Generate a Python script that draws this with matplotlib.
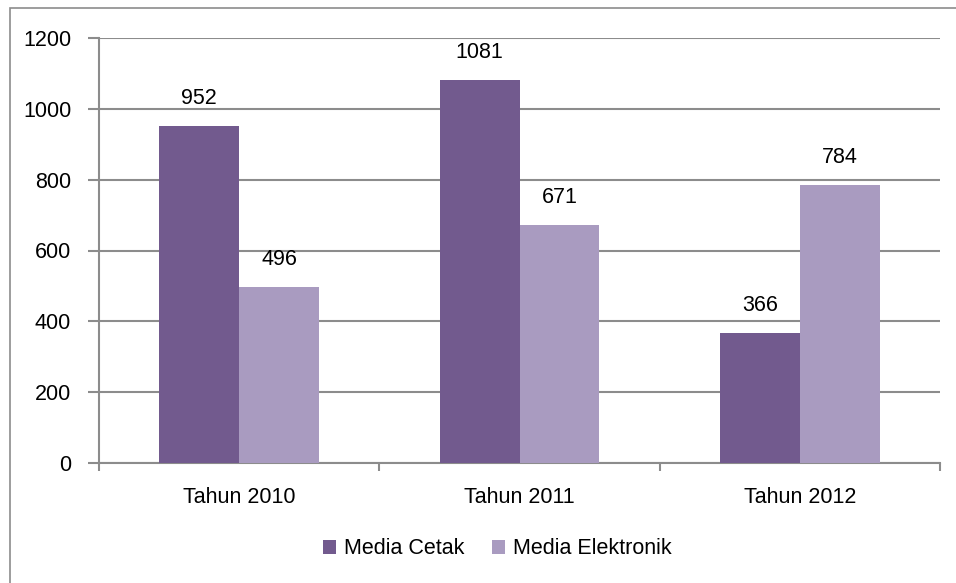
import numpy as np
import matplotlib.pyplot as plt
from matplotlib.patches import Rectangle

plt.rcParams['font.family'] = ['Liberation Sans', 'DejaVu Sans']

categories = ['Tahun 2010', 'Tahun 2011', 'Tahun 2012']
media_cetak = [952, 1081, 366]
media_elektronik = [496, 671, 784]
series_names = ['Media Cetak', 'Media Elektronik']
y_ticks = [0, 200, 400, 600, 800, 1000, 1200]

c_dark = '#725a8e'
c_light = '#a99bc0'
grid_col = '#8c8c8c'
fs = 15.5

fig = plt.figure(figsize=(9.56, 5.83), dpi=100)
ax = fig.add_axes([99 / 956, 1 - 463 / 583, (940 - 99) / 956, (463 - 38) / 583])

# outer chart border (extends beyond right/bottom of the image)
fig.patches.append(Rectangle((10 / 956, -0.05), 1.2, 1 - 8 / 583 + 0.05,
                             transform=fig.transFigure, fill=False,
                             edgecolor='#8c8c8c', linewidth=1.2))

x = np.arange(len(categories))
w = 0.285
b1 = ax.bar(x - w / 2, media_cetak, w, color=c_dark, label=series_names[0], zorder=3)
b2 = ax.bar(x + w / 2, media_elektronik, w, color=c_light, label=series_names[1], zorder=3)

for bars, vals in [(b1, media_cetak), (b2, media_elektronik)]:
    for r, v in zip(bars, vals):
        ax.text(r.get_x() + r.get_width() / 2, v + 48, str(v),
                ha='center', va='bottom', fontsize=fs, color='black')

ax.set_xlim(-0.5, 2.5)
ax.set_ylim(0, 1200)
ax.set_yticks(y_ticks)
ax.set_yticklabels([str(t) for t in y_ticks], fontsize=fs)
ax.yaxis.grid(True, color=grid_col, linewidth=1.5, zorder=0)
ax.set_axisbelow(True)

ax.set_xticks(x)
ax.set_xticklabels(categories, fontsize=fs)
ax.tick_params(axis='x', length=0, pad=17)
ax.set_xticks([-0.5, 0.5, 1.5, 2.5], minor=True)
ax.tick_params(axis='x', which='minor', length=6, width=1.5, color=grid_col, direction='out')
ax.tick_params(axis='y', length=8, width=1.5, color=grid_col, direction='out', pad=12)

for s in ['top', 'right']:
    ax.spines[s].set_visible(False)
ax.spines['left'].set_color(grid_col)
ax.spines['left'].set_linewidth(1.5)
ax.spines['bottom'].set_color(grid_col)
ax.spines['bottom'].set_linewidth(1.5)

fig.legend(handles=[b1, b2], labels=series_names, loc='center',
           bbox_to_anchor=(497 / 956, 1 - 549 / 583), ncol=2, frameon=False,
           fontsize=fs, handlelength=0.62, handleheight=0.62, handletextpad=0.35,
           columnspacing=1.3)

fig.savefig('out.png', dpi=100)
